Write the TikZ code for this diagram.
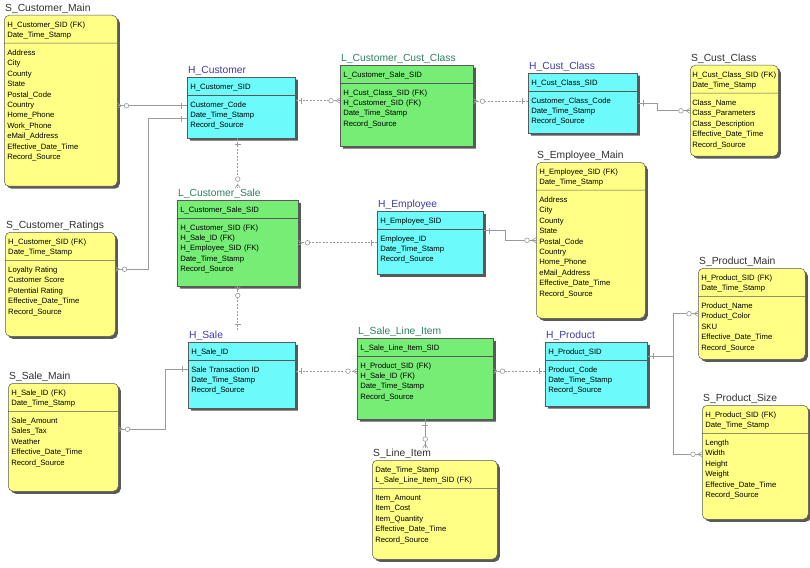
\documentclass[tikz,border=0pt]{standalone}
\usepackage{fontspec}
\setmainfont{Liberation Sans}
\usepackage{xcolor}
\usepackage{tikz}
\usetikzlibrary{shapes.multipart, shadows, decorations.markings, calc}

\definecolor{satfill}{HTML}{FFFF85}
\definecolor{hubfill}{HTML}{6CFAFA}
\definecolor{linkfill}{HTML}{76EE76}
\definecolor{hubtitle}{HTML}{3C3CA8}
\definecolor{linktitle}{HTML}{2F7F5F}
\definecolor{sattitle}{HTML}{303030}
\definecolor{connector}{HTML}{9A9A9A}

\newcommand{\rowstrut}{\rule{0pt}{8.5pt}}
\newcommand{\padrow}[1]{\rule[-#1]{0pt}{#1}}

\begin{document}
\begin{tikzpicture}[
   x=1pt, y=-1pt,
   entity/.style = {rectangle split, rectangle split parts=2, draw=black!65, line width=0.5pt, anchor=north west, inner xsep=3pt, inner ysep=3.5pt, align=left, font=\fontsize{7.7}{10.4}\selectfont, drop shadow={shadow xshift=2.5pt, shadow yshift=-2.5pt, fill=black!65, opacity=1}},
   hub/.style = {entity, fill=hubfill},
   linkbox/.style = {entity, fill=linkfill},
   sat/.style = {entity, fill=satfill, rounded corners=5pt},
   titletext/.style = {anchor=south west, inner sep=1pt, font=\fontsize{10.3}{11}\selectfont},
   hubtl/.style = {titletext, text=hubtitle},
   linktl/.style = {titletext, text=linktitle},
   sattl/.style = {titletext, text=sattitle},
   satline/.style = {draw=connector, line width=0.6pt},
   hubline/.style = {draw=connector, line width=0.6pt, dash pattern=on 2pt off 1.5pt},
   oneend/.style = {postaction={decorate, decoration={markings, mark=at position 6pt with {\draw[connector, solid, line width=0.6pt] (0,-3pt) -- (0,3pt);}}}},
   manyend/.style = {postaction={decorate, decoration={markings, mark=at position -9pt with {\draw[connector, solid, fill=white, line width=0.6pt] (0,0) circle (2.3pt);}, mark=at position -4pt with {\draw[connector, solid, line width=0.6pt] (4pt,2.5pt) -- (0,0) -- (4pt,-2.5pt);}}}}
   ]
  \useasboundingbox (0,0) rectangle (810,567);

  % Customer
  \node[sat, text width=107pt, label={[sattl]north west:S\_Customer\_Main}] (sCustMain) at (4,15)
   {\rowstrut H\_Customer\_SID (FK)\\ Date\_Time\_Stamp
   \nodepart{two}\rowstrut Address\\ City\\ County\\ State\\ Postal\_Code\\ Country\\ Home\_Phone\\ Work\_Phone\\ eMail\_Address\\ Effective\_Date\_Time\\ Record\_Source\padrow{23pt}};
  \node[hub, text width=102pt, label={[hubtl]north west:H\_Customer}] (hCust) at (187,77)
   {\rowstrut H\_Customer\_SID
   \nodepart{two}\rowstrut Customer\_Code\\ Date\_Time\_Stamp\\ Record\_Source\padrow{6.6pt}};
  \node[sat, text width=104pt, label={[sattl]north west:S\_Customer\_Ratings}] (sCustRat) at (5,232)
   {\rowstrut H\_Customer\_SID (FK)\\ Date\_Time\_Stamp
   \nodepart{two}\rowstrut Loyalty Rating\\ Customer Score\\ Potential Rating\\ Effective\_Date\_Time\\ Record\_Source\padrow{18.4pt}};

  % Customer class
  \node[linkbox, text width=127pt, label={[linktl]north west:L\_Customer\_Cust\_Class}] (lCustClass) at (340,65)
   {\rowstrut L\_Customer\_Sale\_SID
   \nodepart{two}\rowstrut H\_Cust\_Class\_SID (FK)\\ H\_Customer\_SID (FK)\\ Date\_Time\_Stamp\\ Record\_Source\padrow{16.2pt}};
  \node[hub, text width=103pt, label={[hubtl]north west:H\_Cust\_Class}] (hCustClass) at (528,73)
   {\rowstrut H\_Cust\_Class\_SID
   \nodepart{two}\rowstrut Customer\_Class\_Code\\ Date\_Time\_Stamp\\ Record\_Source\padrow{5.6pt}};
  \node[sat, text width=84pt, inner xsep=2pt, label={[sattl]north west:S\_Cust\_Class}] (sCustClass) at (690,65)
   {\rowstrut H\_Cust\_Class\_SID (FK)\\ Date\_Time\_Stamp
   \nodepart{two}\rowstrut Class\_Name\\ Class\_Parameters\\ Class\_Description\\ Effective\_Date\_Time\\ Record\_Source\padrow{5.4pt}};

  % Customer sale and employee
  \node[linkbox, text width=115pt, label={[linktl, name=lCustSaleT]north west:L\_Customer\_Sale}] (lCustSale) at (177,200)
   {\rowstrut L\_Customer\_Sale\_SID
   \nodepart{two}\rowstrut H\_Customer\_SID (FK)\\ H\_Sale\_ID (FK)\\ H\_Employee\_SID (FK)\\ Date\_Time\_Stamp\\ Record\_Source\padrow{10.8pt}};
  \node[hub, text width=100pt, label={[hubtl]north west:H\_Employee}] (hEmp) at (377,211)
   {\rowstrut H\_Employee\_SID
   \nodepart{two}\rowstrut Employee\_ID\\ Date\_Time\_Stamp\\ Record\_Source\padrow{8.6pt}};
  \node[sat, text width=103pt, label={[sattl]north west:S\_Employee\_Main}] (sEmpMain) at (536,162)
   {\rowstrut H\_Employee\_SID (FK)\\ Date\_Time\_Stamp
   \nodepart{two}\rowstrut Address\\ City\\ County\\ State\\ Postal\_Code\\ Country\\ Home\_Phone\\ eMail\_Address\\ Effective\_Date\_Time\\ Record\_Source\padrow{18.4pt}};

  % Sale
  \node[hub, text width=101pt, label={[hubtl, name=hSaleT]north west:H\_Sale}] (hSale) at (188,342)
   {\rowstrut H\_Sale\_ID
   \nodepart{two}\rowstrut Sale Transaction ID\\ Date\_Time\_Stamp\\ Record\_Source\padrow{11.6pt}};
  \node[sat, text width=104pt, label={[sattl]north west:S\_Sale\_Main}] (sSaleMain) at (8,383)
   {\rowstrut H\_Sale\_ID (FK)\\ Date\_Time\_Stamp
   \nodepart{two}\rowstrut Sale\_Amount\\ Sales\_Tax\\ Weather\\ Effective\_Date\_Time\\ Record\_Source\padrow{22.4pt}};

  % Line item
  \node[linkbox, text width=130pt, label={[linktl]north west:L\_Sale\_Line\_Item}] (lSaleLine) at (357,338)
   {\rowstrut L\_Sale\_Line\_Item\_SID
   \nodepart{two}\rowstrut H\_Product\_SID (FK)\\ H\_Sale\_ID (FK)\\ Date\_Time\_Stamp\\ Record\_Source\padrow{16.2pt}};
  \node[sat, text width=119pt, label={[sattl, name=sLineItemT]north west:S\_Line\_Item}] (sLineItem) at (372,460)
   {\rowstrut Date\_Time\_Stamp\\ L\_Sale\_Line\_Item\_SID (FK)
   \nodepart{two}\rowstrut Item\_Amount\\ Item\_Cost\\ Item\_Quantity\\ Effective\_Date\_Time\\ Record\_Source\padrow{13.4pt}};

  % Product
  \node[hub, text width=96pt, label={[hubtl]north west:H\_Product}] (hProd) at (545,342)
   {\rowstrut H\_Product\_SID
   \nodepart{two}\rowstrut Product\_Code\\ Date\_Time\_Stamp\\ Record\_Source\padrow{9.6pt}};
  \node[sat, text width=101pt, label={[sattl]north west:S\_Product\_Main}] (sProdMain) at (698,268)
   {\rowstrut H\_Product\_SID (FK)\\ Date\_Time\_Stamp
   \nodepart{two}\rowstrut Product\_Name\\ Product\_Color\\ SKU\\ Effective\_Date\_Time\\ Record\_Source\padrow{5.4pt}};
  \node[sat, text width=100pt, label={[sattl]north west:S\_Product\_Size}] (sProdSize) at (702,405)
   {\rowstrut H\_Product\_SID (FK)\\ Date\_Time\_Stamp
   \nodepart{two}\rowstrut Length\\ Width\\ Height\\ Weight\\ Effective\_Date\_Time\\ Record\_Source\padrow{18pt}};

  % Hub to satellite lines
  \coordinate (cm) at ([yshift=2pt]hCust.west);
  \draw[satline, oneend, manyend] (cm) -- (cm -| sCustMain.east);
  \draw[satline, oneend, manyend] ([yshift=-11pt]hCust.west) -- ++(-39,0) |- ([yshift=15pt]sCustRat.east);
  \draw[satline, oneend, manyend] (hCustClass.east) -- ++(20,0) |- (sCustClass.west);
  \draw[satline, oneend, manyend] ([yshift=12pt]hEmp.east) -- ++(22,0) |- (sEmpMain.west);
  \draw[satline, oneend, manyend] ([yshift=6pt]hSale.west) -- ++(-23,0) |- ([yshift=8pt]sSaleMain.east);
  \draw[satline, oneend, manyend] ([yshift=18pt]hProd.east) -- ++(26,0) |- (sProdMain.west);
  \draw[satline, oneend, manyend] ([yshift=18pt]hProd.east) -- ++(26,0) |- ([yshift=8pt]sProdSize.west);
  \draw[satline, oneend, manyend] (lSaleLine.south) -- (lSaleLine.south |- sLineItemT.north);

  % Hub to link lines
  \coordinate (cc) at ([yshift=7pt]hCust.east);
  \draw[hubline, oneend, manyend] (cc) -- (cc -| lCustClass.west);
  \coordinate (kc) at ([yshift=2pt]hCustClass.west);
  \draw[hubline, oneend, manyend] (kc) -- (kc -| lCustClass.east);
  \draw[hubline, oneend, manyend] (lCustSale.north |- hCust.south) -- (lCustSale.north |- lCustSaleT.north);
  \draw[hubline, oneend, manyend] (lCustSale.south |- hSaleT.north) -- (lCustSale.south);
  \draw[hubline, oneend, manyend] (hEmp.west) -- (hEmp.west -| lCustSale.east);
  \coordinate (sl) at ([yshift=4pt]hSale.east);
  \draw[hubline, oneend, manyend] (sl) -- (sl -| lSaleLine.west);
  \coordinate (pl) at ([yshift=3pt]hProd.west);
  \draw[hubline, oneend, manyend] (pl) -- (pl -| lSaleLine.east);
\end{tikzpicture}
\end{document}
